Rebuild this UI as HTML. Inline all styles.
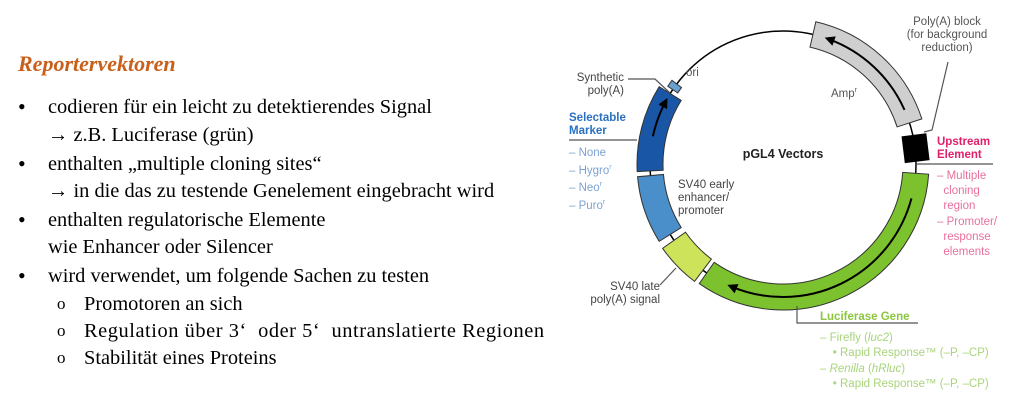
<!DOCTYPE html>
<html><head><meta charset="utf-8"><style>
html,body{margin:0;padding:0;background:#fff;}
#w{position:relative;width:1024px;height:403px;overflow:hidden;background:#fff;}
.t{position:absolute;font-family:"Liberation Serif",serif;font-size:20.4px;color:#000;white-space:nowrap;line-height:28px;}
.s{position:absolute;font-family:"Liberation Sans",sans-serif;font-size:11.5px;white-space:nowrap;line-height:13px;}
.b{font-size:22px;}
</style></head><body><div id="w">
<div class="t" style="left:18px;top:50px;color:#c8601c;font-style:italic;font-weight:bold;font-size:22px;">Reportervektoren</div>
<div class="t b" style="left:18px;top:93px;">•</div>
<div class="t" style="left:48px;top:93px;">codieren für ein leicht zu detektierendes Signal</div>
<div class="t" style="left:48px;top:121px;"><b>→</b> z.B. Luciferase (grün)</div>
<div class="t b" style="left:18px;top:150px;">•</div>
<div class="t" style="left:48px;top:150px;">enthalten „multiple cloning sites“</div>
<div class="t" style="left:48px;top:177px;"><b>→</b> in die das zu testende Genelement eingebracht wird</div>
<div class="t b" style="left:18px;top:206px;">•</div>
<div class="t" style="left:48px;top:206px;">enthalten regulatorische Elemente</div>
<div class="t" style="left:48px;top:233px;">wie Enhancer oder Silencer</div>
<div class="t b" style="left:18px;top:262px;">•</div>
<div class="t" style="left:48px;top:262px;">wird verwendet, um folgende Sachen zu testen</div>
<div class="t" style="left:57px;top:290px;font-size:17px;">o</div>
<div class="t" style="left:84px;top:290px;">Promotoren an sich</div>
<div class="t" style="left:57px;top:317px;font-size:17px;">o</div>
<div class="t" style="left:84px;top:317px;letter-spacing:0.55px;">Regulation über 3‘&nbsp; oder 5‘&nbsp; untranslatierte Regionen</div>
<div class="t" style="left:57px;top:344px;font-size:17px;">o</div>
<div class="t" style="left:84px;top:344px;">Stabilität eines Proteins</div>

<svg id="sv" width="1024" height="403" style="position:absolute;left:0;top:0;" xmlns="http://www.w3.org/2000/svg">
<defs><marker id="ah" viewBox="0 0 10 10" refX="6" refY="5" markerWidth="5" markerHeight="5" orient="auto"><path d="M0,0 L10,5 L0,10 z" fill="#000"/></marker></defs>
<circle cx="783" cy="164" r="133" fill="none" stroke="#000" stroke-width="1.5"/>
<g id="segs"></g>
<g stroke="#555" stroke-width="1.2" fill="none">
<polyline points="948,62 932,130 924,132"/>
<polyline points="917,164 993,164"/>
<polyline points="628,79 655,79 670,93"/>
<polyline points="569,140 637,140"/>
<polyline points="660,285 676,268"/>
<polyline points="797,306 797,323 918,323"/>
</g>
<text x="783" y="158" text-anchor="middle" font-family="Liberation Sans,sans-serif" font-weight="bold" font-size="12.5" fill="#222">pGL4 Vectors</text>
</svg>

<div class="s" style="left:900px;top:16px;width:94px;text-align:center;color:#555;">Poly(A) block<br>(for background<br>reduction)</div>
<div class="s" style="left:937px;top:136px;color:#e0206a;font-weight:bold;">Upstream<br>Element</div>
<div class="s" style="left:937px;top:169px;color:#e8709e;line-height:15.2px;">– Multiple<br>&nbsp;&nbsp;cloning<br>&nbsp;&nbsp;region<br>– Promoter/<br>&nbsp;&nbsp;response<br>&nbsp;&nbsp;elements</div>
<div class="s" style="left:560px;top:72px;width:64px;text-align:right;color:#444;">Synthetic<br>poly(A)</div>
<div class="s" style="left:569px;top:112px;color:#2a70c0;font-weight:bold;">Selectable<br>Marker</div>
<div class="s" style="left:569px;top:146px;color:#7ea2d2;line-height:14.7px;">– None<br>– Hygro<sup style="font-size:7px">r</sup><br>– Neo<sup style="font-size:7px">r</sup><br>– Puro<sup style="font-size:7px">r</sup></div>
<div class="s" style="left:686px;top:67px;color:#555;">ori</div>
<div class="s" style="left:831px;top:84px;color:#555;">Amp<sup style="font-size:7px">r</sup></div>
<div class="s" style="left:678px;top:179px;color:#444;">SV40 early<br>enhancer/<br>promoter</div>
<div class="s" style="left:580px;top:281px;width:80px;text-align:right;color:#444;">SV40 late<br>poly(A) signal</div>
<div class="s" style="left:820px;top:311px;color:#8cc63f;font-weight:bold;">Luciferase Gene</div>
<div class="s" style="left:820px;top:331px;color:#a8d47a;line-height:15.4px;">– Firefly (<i>luc2</i>)<br>&nbsp;&nbsp;&nbsp;&nbsp;• Rapid Response™ (–P, –CP)<br>– <i>Renilla</i> (<i>hRluc</i>)<br>&nbsp;&nbsp;&nbsp;&nbsp;• Rapid Response™ (–P, –CP)</div>
</div>
<script>
var cx=783,cy=164;
function P(r,a){a=a*Math.PI/180;return [cx+r*Math.sin(a),cy-r*Math.cos(a)];}
function band(a1,a2,r1,r2,fill){var o1=P(r2,a1),o2=P(r2,a2),i2=P(r1,a2),i1=P(r1,a1),l=(a2-a1)>180?1:0;
return '<path d="M'+o1+' A'+r2+','+r2+' 0 '+l+' 1 '+o2+' L'+i2+' A'+r1+','+r1+' 0 '+l+' 0 '+i1+' Z" fill="'+fill+'" stroke="#333" stroke-width="1"/>';}
function arc(a1,a2,r,cw){var s=P(r,a1),e=P(r,a2);return '<path d="M'+s+' A'+r+','+r+' 0 0 '+(cw?1:0)+' '+e+'" fill="none" stroke="#000" stroke-width="2" marker-end="url(#ah)"/>';}
var h='';
h+=band(13,72,120,146,'#cfcfcf');
h+=band(94,215,120,146,'#7cc12e');
h+=band(217,235,119,147,'#cde35a');
h+=band(238,265,120,146,'#4a8fca');
h+=band(267,302,120,146,'#1a56a6');
h+=band(304,307,127,139,'#6aa0d0');
h+=arc(66,20,133,false);
h+=arc(105,203,133,true);
h+=arc(282,298,133,true);
var b1=P(133,83);
h+='<rect x="'+(b1[0]-12)+'" y="'+(b1[1]-13)+'" width="25" height="27" fill="#000" transform="rotate(-7 '+b1[0]+' '+b1[1]+')"/>';
document.getElementById('segs').innerHTML=h;
</script>
</body></html>
